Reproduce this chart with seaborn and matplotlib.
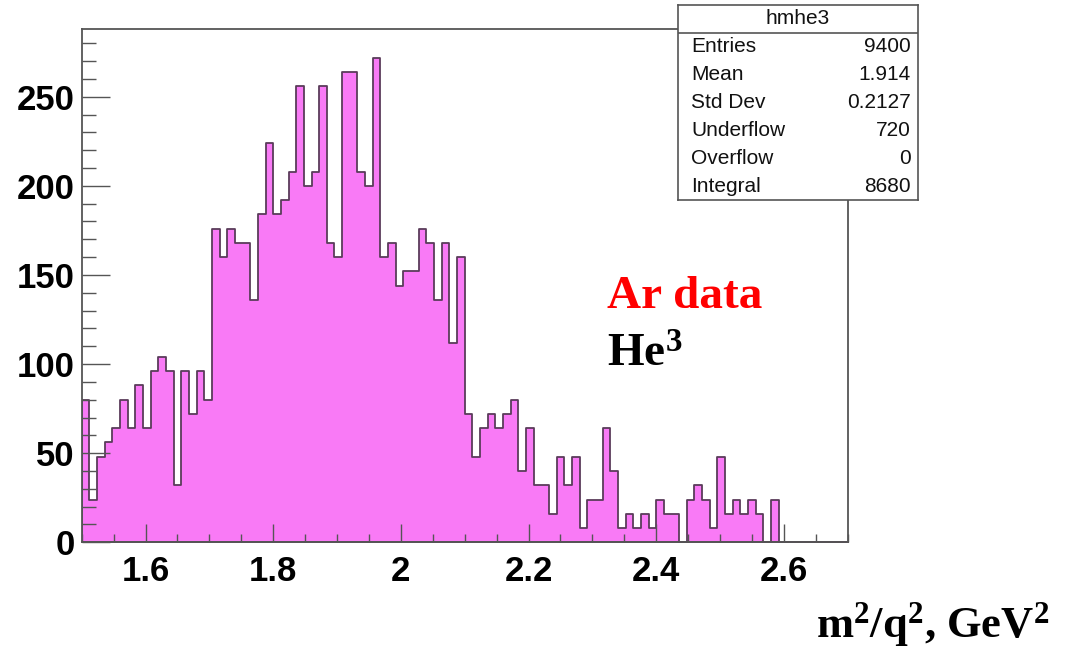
import numpy as np
import pandas as pd
import matplotlib
matplotlib.use("Agg")
import matplotlib.pyplot as plt
from matplotlib.ticker import MultipleLocator
import seaborn as sns

# ---- data (histogram hmhe3, 100 bins from 1.5 to 2.7) ----
x_min, x_max, n_bins = 1.5, 2.7, 100
counts = [80, 24, 48, 56, 64, 80, 64, 88, 64, 96,
          104, 96, 32, 96, 72, 96, 80, 176, 160, 176,
          168, 168, 136, 184, 224, 184, 192, 208, 256, 200,
          208, 256, 168, 160, 264, 264, 208, 200, 272, 160,
          168, 144, 152, 152, 176, 168, 136, 168, 112, 160,
          72, 48, 64, 72, 64, 72, 80, 40, 64, 32,
          32, 16, 48, 32, 48, 8, 24, 24, 64, 40,
          8, 16, 8, 16, 8, 24, 16, 16, 0, 24,
          32, 24, 8, 48, 16, 24, 16, 24, 16, 0,
          24, 0, 0, 0, 0, 0, 0, 0, 0, 0]
x_ticks = [1.6, 1.8, 2.0, 2.2, 2.4, 2.6]
x_ticklabels = ["1.6", "1.8", "2", "2.2", "2.4", "2.6"]
y_ticks = [0, 50, 100, 150, 200, 250]
stats_title = "hmhe3"
stats_names = ["Entries", "Mean", "Std Dev", "Underflow", "Overflow", "Integral"]
stats_values = ["9400", "1.914", "0.2127", "720", "0", "8680"]

width = (x_max - x_min) / n_bins
centers = x_min + width * (np.arange(n_bins) + 0.5)
df = pd.DataFrame({"m2q2": centers, "w": counts})

sns.set_theme(style="white")
plt.rcParams["font.family"] = ["Liberation Sans Narrow", "Liberation Sans", "DejaVu Sans"]
plt.rcParams["axes.axisbelow"] = False
plt.rcParams["mathtext.fontset"] = "custom"
plt.rcParams["mathtext.rm"] = "Liberation Serif:bold"
plt.rcParams["mathtext.bf"] = "Liberation Serif:bold"
plt.rcParams["mathtext.it"] = "Liberation Serif:bold"

W, H = 1076, 656
fig = plt.figure(figsize=(W / 100, H / 100), dpi=100)
ax = fig.add_axes([81.7 / W, 1 - 542.3 / H, (847.7 - 81.7) / W, (542.3 - 29) / H])

fill_col = "#f97af6"
edge_col = "#5a3c5a"
sns.histplot(data=df, x="m2q2", weights="w", bins=n_bins, binrange=(x_min, x_max),
             element="step", fill=True, color=fill_col, alpha=1.0,
             edgecolor=edge_col, linewidth=1.3, ax=ax)
ax.set_axisbelow(False)

ax.set_xlim(x_min, x_max)
ax.set_ylim(0, 288)
ax.set_xlabel("")
ax.set_ylabel("")
ax.set_xticks(x_ticks)
ax.set_xticklabels(x_ticklabels)
ax.set_yticks(y_ticks)
ax.xaxis.set_minor_locator(MultipleLocator(0.05))
ax.yaxis.set_minor_locator(MultipleLocator(10))
frame_col = "#555555"
for s in ax.spines.values():
    s.set_color(frame_col)
    s.set_linewidth(1.3)
    s.set_zorder(5)
ax.tick_params(which="both", bottom=True, left=True, top=False, right=False)
ax.tick_params(axis="x", which="major", direction="in", length=13, width=1.0,
               color=frame_col, pad=9, labelsize=25, labelcolor="black")
ax.tick_params(axis="x", which="minor", direction="in", length=6, width=1.0, color=frame_col)
ax.tick_params(axis="y", which="major", direction="in", length=20, width=1.0,
               color=frame_col, pad=5, labelsize=25, labelcolor="black")
ax.tick_params(axis="y", which="minor", direction="in", length=10, width=1.0, color=frame_col)
for lab in ax.get_xticklabels() + ax.get_yticklabels():
    lab.set_fontweight("bold")

# ---- stats box ----
bx0, bx1, by0, by1 = 678, 918, 5, 200
sax = fig.add_axes([bx0 / W, 1 - by1 / H, (bx1 - bx0) / W, (by1 - by0) / H])
sax.set_xlim(bx0, bx1)
sax.set_ylim(by1, by0)
sax.set_xticks([])
sax.set_yticks([])
sax.set_facecolor("white")
for s in sax.spines.values():
    s.set_color(frame_col)
    s.set_linewidth(1.2)
sax.axhline(33, color=frame_col, lw=1.2)
sax.text((bx0 + bx1) / 2, 19, stats_title, ha="center", va="center", fontsize=15, color="#111111")
for i, (n, v) in enumerate(zip(stats_names, stats_values)):
    yy = 47 + 28 * i
    sax.text(691, yy, n, ha="left", va="center", fontsize=15, color="#111111")
    sax.text(911, yy, v, ha="right", va="center", fontsize=15, color="#111111")

# ---- annotations ----
serif = ["Liberation Serif", "DejaVu Serif"]
fig.text(607 / W, 1 - 308 / H, "Ar data", color="#ff0000", fontsize=34,
         fontweight="bold", family=serif, ha="left", va="baseline")
fig.text(607 / W, 1 - 367 / H, r"He$^{3}$", color="black", fontsize=34,
         fontweight="bold", family=serif, ha="left", va="baseline")
fig.text(816 / W, 1 - 637 / H, r"m$^{2}$/q$^{2}$, GeV$^{2}$", color="black", fontsize=32,
         fontweight="bold", family=serif, ha="left", va="baseline")

fig.savefig("out.png", dpi=100)
